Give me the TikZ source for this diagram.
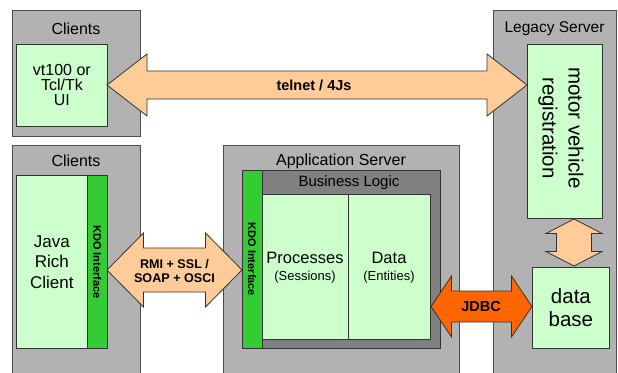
\documentclass[tikz,border=0pt]{standalone}
\usepackage{fontspec}
\setmainfont{Liberation Sans}
\definecolor{boxgray}{HTML}{B2B2B2}
\definecolor{blgray}{HTML}{808080}
\definecolor{lgreen}{HTML}{CCFFCC}
\definecolor{kgreen}{HTML}{33CC33}
\definecolor{peach}{HTML}{FFCC99}
\definecolor{jorange}{HTML}{FF6600}
\newcommand\hdbl[7]{% x1 x2 y hw sw hl style
  \pgfmathsetmacro\ax{#1+#6}\pgfmathsetmacro\bx{#2-#6}%
  \pgfmathsetmacro\ya{#3-#4}\pgfmathsetmacro\yb{#3-#5}%
  \pgfmathsetmacro\yc{#3+#5}\pgfmathsetmacro\yd{#3+#4}%
  \draw[#7] (#1,#3) -- (\ax,\ya) -- (\ax,\yb) -- (\bx,\yb) -- (\bx,\ya) -- (#2,#3)
    -- (\bx,\yd) -- (\bx,\yc) -- (\ax,\yc) -- (\ax,\yd) -- cycle;}
\newcommand\vdbl[7]{% y1 y2 x hw sw hl style
  \pgfmathsetmacro\ay{#1+#6}\pgfmathsetmacro\by{#2-#6}%
  \pgfmathsetmacro\xa{#3-#4}\pgfmathsetmacro\xb{#3-#5}%
  \pgfmathsetmacro\xc{#3+#5}\pgfmathsetmacro\xd{#3+#4}%
  \draw[#7] (#3,#1) -- (\xa,\ay) -- (\xb,\ay) -- (\xb,\by) -- (\xa,\by) -- (#3,#2)
    -- (\xd,\by) -- (\xc,\by) -- (\xc,\ay) -- (\xd,\ay) -- cycle;}
\begin{document}
\begin{tikzpicture}[x=1pt,y=-1pt,
  container/.style={draw=black!70, fill=boxgray, line width=0.8pt, anchor=north west, inner sep=0pt},
  gbox/.style={draw=black!80, fill=lgreen, line width=0.8pt, anchor=north west, inner sep=0pt, align=center},
  kdo/.style={draw=black!80, fill=kgreen, line width=0.8pt, anchor=north west, inner sep=0pt},
  blbox/.style={draw=black!80, fill=blgray, line width=0.8pt, anchor=north west, inner sep=0pt},
  title/.style={font=\fontsize{16}{18}\selectfont, inner sep=0pt},
  peacharrow/.style={draw=black!80, fill=peach, line width=0.8pt, line join=miter},
  jdbcarrow/.style={draw=black!80, fill=jorange, line width=0.8pt, line join=miter},
  arrlabel/.style={font=\bfseries\fontsize{12.6}{14}\selectfont, align=center, inner sep=0pt},
  kdolabel/.style={font=\bfseries\fontsize{11}{12}\selectfont, rotate=-90, inner sep=0pt},
  bigtxt/.style={font=\fontsize{16.5}{19}\selectfont, inner sep=0pt},
  smalltxt/.style={font=\fontsize{13}{15}\selectfont, inner sep=0pt}
]
\useasboundingbox (0,0) rectangle (618,372);
\begin{scope}
\clip (0,0) rectangle (618,372);
% containers
\node[container, minimum width=128pt, minimum height=126pt] (cl1) at (12,10) {};
\node[container, minimum width=123pt, minimum height=380pt] (ls) at (493,10) {};
\node[container, minimum width=128pt, minimum height=240pt] (cl2) at (12,145) {};
\node[container, minimum width=236pt, minimum height=240pt] (as) at (223,145) {};
\end{scope}
% titles
\node[title] (t1) at (76,29) {Clients};
\node[title, font=\fontsize{15.5}{18}\selectfont] (t2) at (554.5,29) {Legacy Server};
\node[title] (t3) at (76,161) {Clients};
\node[title] (t4) at (341,161) {Application Server};
% top clients
\node[gbox, minimum width=91pt, minimum height=82pt, font=\fontsize{16}{15}\selectfont] (ui) at (16,44) {vt100 or\\Tcl/Tk\\UI};
% legacy
\node[gbox, minimum width=75pt, minimum height=174pt] (mv) at (527,44) {};
\node[rotate=-90, align=center, font=\fontsize{20.5}{26}\selectfont, inner sep=0pt] (mvt) at (561,128) {motor vehicle\\registration};
\node[gbox, minimum width=77pt, minimum height=81pt, font=\fontsize{20.5}{23}\selectfont] (db) at (532,267) {data\\base};
% bottom clients
\node[gbox, minimum width=71pt, minimum height=173pt, font=\fontsize{17}{20.5}\selectfont] (jrc) at (16,175) {Java\\Rich\\Client};
\node[kdo, minimum width=20pt, minimum height=173pt] (kdo1) at (87,175) {};
\node[kdolabel] (kdo1t) at (kdo1.center) {KDO Interface};
% application server
\node[blbox, minimum width=198pt, minimum height=178pt] (bl) at (242,170) {};
\node[font=\fontsize{15}{18}\selectfont, inner sep=0pt] (blt) at (349,183) {Business Logic};
\node[gbox, minimum width=87pt, minimum height=145pt] (proc) at (261,194) {};
\node[gbox, minimum width=82pt, minimum height=145pt] (data) at (348,194) {};
\node[bigtxt] (proct) at (305,258) {Processes};
\node[smalltxt] (procs) at (305,277.5) {(Sessions)};
\node[bigtxt] (datat) at (389,258) {Data};
\node[smalltxt] (datas) at (389,277.5) {(Entities)};
\node[kdo, minimum width=19.5pt, minimum height=178pt] (kdo2) at (242,170) {};
\node[kdolabel] (kdo2t) at (kdo2.center) {KDO Interface};
% arrows
\hdbl{107}{527}{85}{31}{14}{40}{peacharrow}
\node[arrlabel, font=\bfseries\fontsize{14.5}{16}\selectfont] (telnet) at (314,85) {telnet / 4Js};
\hdbl{107}{242}{270}{37}{22}{36.5}{peacharrow}
\node[arrlabel, font=\bfseries\fontsize{12.6}{14}\selectfont] (rmi) at (174.5,271) {RMI + SSL /\\SOAP + OSCI};
\hdbl{431}{532}{306.5}{30.5}{15.5}{20.5}{jdbcarrow}
\node[arrlabel, font=\bfseries\fontsize{14.5}{16}\selectfont] (jdbc) at (481,307) {JDBC};
\vdbl{219}{266}{574}{28}{17.5}{14.5}{peacharrow}
\end{tikzpicture}
\end{document}
